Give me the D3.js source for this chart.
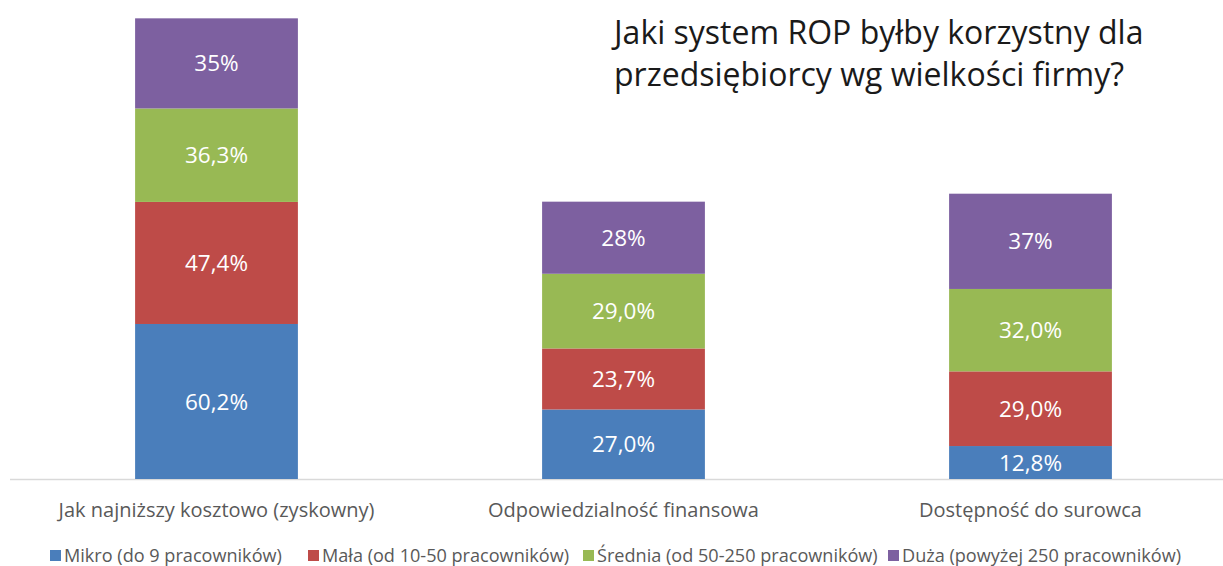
<!DOCTYPE html>
<html lang="pl">
<head>
<meta charset="utf-8">
<title>Jaki system ROP</title>
<script src="https://cdn.jsdelivr.net/npm/d3@7"></script>
<style>
  body { margin: 0; background: #fff; }
  text { font-family: "Open Sans", sans-serif; }
</style>
</head>
<body>
<div id="chart"></div>
<script>
// data
let categories = ["Jak najniższy kosztowo (zyskowny)", "Odpowiedzialność finansowa", "Dostępność do surowca"]
let seriesNames = ["Mikro (do 9 pracowników)", "Mała (od 10-50 pracowników)", "Średnia (od 50-250 pracowników)", "Duża (powyżej 250 pracowników)"]
let mikro = [60.2, 27.0, 12.8]
let mala = [47.4, 23.7, 29.0]
let srednia = [36.3, 29.0, 32.0]
let duza = [35, 28, 37]
let mikroLabels = ["60,2%", "27,0%", "12,8%"]
let malaLabels = ["47,4%", "23,7%", "29,0%"]
let sredniaLabels = ["36,3%", "29,0%", "32,0%"]
let duzaLabels = ["35%", "28%", "37%"]
let colors = ["#4a7ebb", "#be4b48", "#98b954", "#7d60a0"]
let titleLines = ["Jaki system ROP byłby korzystny dla", "przedsiębiorcy wg wielkości firmy?"]

let width = 1223
let height = 566

let values = [mikro, mala, srednia, duza]
let labels = [mikroLabels, malaLabels, sredniaLabels, duzaLabels]

let rows = categories.map((c, i) => {
  let r = { cat: c }
  seriesNames.forEach((s, j) => { r[s] = values[j][i] })
  return r
})
let stacked = d3.stack().keys(seriesNames)(rows)

let svg = d3.select("#chart").append("svg").attr("width", width).attr("height", height)

let x = d3.scaleBand().domain(categories).range([13, 1234]).paddingInner(0.6).paddingOuter(0.3)
let y = d3.scaleLinear().domain([0, 180]).range([479, 15.5])

// baseline
svg.append("line")
   .attr("x1", 10).attr("x2", width)
   .attr("y1", y(0) + 0.5).attr("y2", y(0) + 0.5)
   .attr("stroke", "#d9d9d9").attr("stroke-width", 1.5)

let layers = svg.selectAll("g.layer")
  .data(stacked)
  .enter()
  .append("g")
    .attr("class", "layer")
    .attr("fill", (d, i) => colors[i])

layers.selectAll("rect")
  .data(d => d)
  .enter()
  .append("rect")
    .attr("x", d => x(d.data.cat))
    .attr("width", x.bandwidth())
    .attr("y", d => y(d[1]))
    .attr("height", d => y(d[0]) - y(d[1]))

layers.each(function(layer, j) {
  d3.select(this).selectAll("text")
    .data(layer)
    .enter()
    .append("text")
      .attr("x", d => x(d.data.cat) + x.bandwidth() / 2)
      .attr("y", d => (y(d[0]) + y(d[1])) / 2)
      .attr("dy", "0.36em")
      .attr("text-anchor", "middle")
      .attr("fill", "#fff")
      .attr("font-size", 22.5)
      .text((d, i) => labels[j][i])
})

// category labels
svg.append("g")
   .selectAll("text")
   .data(categories)
   .enter()
   .append("text")
     .attr("x", d => x(d) + x.bandwidth() / 2)
     .attr("y", 517)
     .attr("text-anchor", "middle")
     .attr("fill", "#595959")
     .attr("font-size", 20)
     .text(d => d)

// legend
let legendX = [50, 308, 583, 888]
let legend = svg.append("g")
  .selectAll("g")
  .data(seriesNames)
  .enter()
  .append("g")
    .attr("transform", (d, i) => "translate(" + legendX[i] + ",562)")

legend.append("rect")
  .attr("x", 0).attr("y", -12)
  .attr("width", 11).attr("height", 11)
  .attr("fill", (d, i) => colors[i])

legend.append("text")
  .attr("x", 14)
  .attr("fill", "#595959")
  .attr("font-size", 18.1)
  .text(d => d)

// title
svg.append("text")
   .attr("x", 614)
   .attr("y", 44)
   .attr("fill", "#1a1a1a")
   .attr("font-size", 32)
   .selectAll("tspan")
   .data(titleLines)
   .enter()
   .append("tspan")
     .attr("x", 614)
     .attr("dy", (d, i) => i ? 42 : 0)
     .text(d => d)
</script>
</body>
</html>
